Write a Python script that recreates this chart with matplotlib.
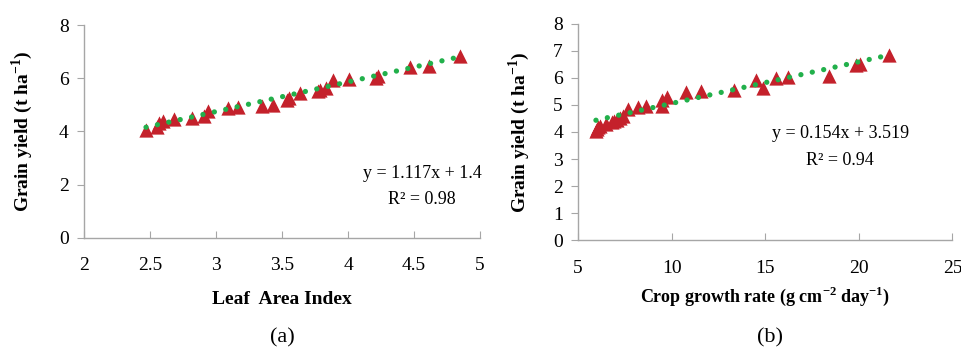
import numpy as np
import matplotlib.pyplot as plt
from matplotlib.ticker import FuncFormatter

plt.rcParams['font.family'] = ['Liberation Serif', 'DejaVu Serif']
plt.rcParams['mathtext.fontset'] = 'custom'
plt.rcParams['mathtext.rm'] = 'Liberation Serif'
plt.rcParams['mathtext.bf'] = 'Liberation Serif:bold'

# panel (a): leaf area index vs grain yield
lai = [2.47, 2.55, 2.57, 2.60, 2.68, 2.82, 2.91, 2.94, 3.09, 3.17, 3.35, 3.43,
       3.54, 3.55, 3.64, 3.77, 3.79, 3.83, 3.89, 4.01, 4.21, 4.23, 4.47, 4.61, 4.85]
yield_a = [4.06, 4.18, 4.31, 4.41, 4.47, 4.51, 4.57, 4.76, 4.87, 4.91, 4.96, 5.00,
           5.20, 5.26, 5.46, 5.53, 5.57, 5.63, 5.93, 5.99, 6.03, 6.08, 6.44, 6.48, 6.84]
fit_a = (1.117, 1.4)
eq_a = ['y = 1.117x + 1.4', 'R² = 0.98']

# panel (b): crop growth rate vs grain yield
cgr = [5.95, 6.00, 6.05, 6.15, 6.50, 6.80, 6.90, 7.07, 7.25, 7.42, 7.69, 8.19,
       8.63, 9.47, 9.47, 9.77, 10.77, 11.57, 13.35, 14.51, 14.87, 15.58, 16.24,
       18.43, 19.85, 20.06, 21.63]
yield_b = [4.05, 4.12, 4.18, 4.22, 4.30, 4.38, 4.42, 4.44, 4.52, 4.59, 4.84, 4.91,
           4.96, 5.19, 4.96, 5.28, 5.49, 5.53, 5.55, 5.93, 5.64, 5.99, 6.02,
           6.07, 6.48, 6.52, 6.85]
fit_b = (0.154, 3.519)
eq_b = ['y = 0.154x + 3.519', 'R² = 0.94']

red = '#C4212B'
green = '#22B04B'
grey = '#A6A6A6'

fig = plt.figure(figsize=(9.62, 3.52), dpi=100)
ax1 = fig.add_axes([0.0873, 0.325, 0.4117, 0.603])
ax2 = fig.add_axes([0.601, 0.318, 0.389, 0.614])

def style(ax):
    for s in ['top', 'right']:
        ax.spines[s].set_visible(False)
    for s in ['left', 'bottom']:
        ax.spines[s].set_color(grey)
        ax.spines[s].set_linewidth(1.0)
    ax.tick_params(axis='y', direction='out', length=5, color=grey, labelsize=14, pad=6)
    ax.tick_params(axis='x', direction='in', length=5, color=grey, labelsize=14, pad=14)
    ax.xaxis.set_major_formatter(FuncFormatter(lambda v, p: '{:g}'.format(v)))

def panel(ax, x, y, fit):
    ax.scatter(x, y, marker='^', s=105, color=red, linewidths=0, zorder=3)
    xs = np.linspace(min(x), max(x), 50)
    ax.plot(xs, fit[0] * xs + fit[1], color=green, lw=3.8,
            linestyle=(0, (0.01, 2.2)), dash_capstyle='round', zorder=4)

ylab = r'Grain yield (t ha$^{\mathbf{-1}}$)'

panel(ax1, lai, yield_a, fit_a)
ax1.set_xlim(2, 5)
ax1.set_ylim(0, 8)
ax1.set_xticks(np.arange(2, 5.01, 0.5))
ax1.set_yticks(range(0, 9, 2))
style(ax1)
ax1.set_xlabel('Leaf  Area Index', fontsize=14, fontweight='bold', labelpad=12)
ax1.set_ylabel(ylab, fontsize=14, fontweight='bold', labelpad=17)
ax1.text(4.56, 2.4, eq_a[0], ha='center', va='center', fontsize=13)
ax1.text(4.56, 1.45, eq_a[1], ha='center', va='center', fontsize=13)

panel(ax2, cgr, yield_b, fit_b)
ax2.set_xlim(5, 25)
ax2.set_ylim(0, 8)
ax2.set_xticks(range(5, 26, 5))
ax2.set_yticks(range(0, 9))
style(ax2)
ax2.set_xlabel(r'Crop growth rate (g cm$^{\mathbf{-2}}$ day$^{\mathbf{-1}}$)', fontsize=13,
               fontweight='bold', labelpad=6)
ax2.set_ylabel(ylab, fontsize=14, fontweight='bold', labelpad=15)
ax2.text(19.0, 3.95, eq_b[0], ha='center', va='center', fontsize=13)
ax2.text(19.0, 2.95, eq_b[1], ha='center', va='center', fontsize=13)

fig.text(0.294, 0.04, '(a)', ha='center', va='center', fontsize=16)
fig.text(0.800, 0.04, '(b)', ha='center', va='center', fontsize=16)

fig.savefig('out.png', dpi=100)
